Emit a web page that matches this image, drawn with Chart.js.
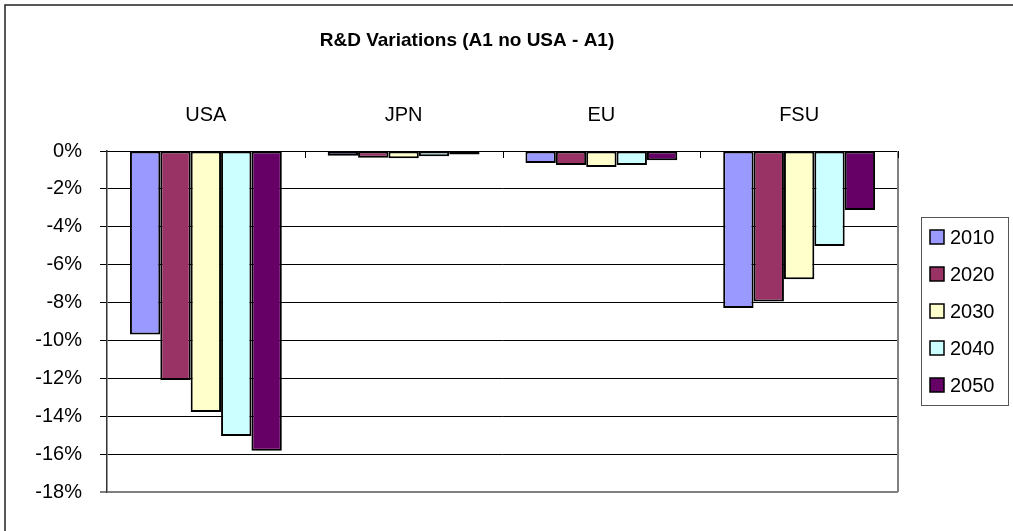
<!DOCTYPE html>
<html><head><meta charset="utf-8">
<script src="https://cdn.jsdelivr.net/npm/chart.js@4"></script>
<style>html,body{margin:0;padding:0;background:#fff;overflow:hidden}#wrap{width:1013px;height:531px;position:relative}</style>
</head><body><div id="wrap"><canvas id="c"></canvas></div>
<script>
const categories = ['USA', 'JPN', 'EU', 'FSU'];
const seriesNames = ['2010', '2020', '2030', '2040', '2050'];
const v2010 = [-9.68, -0.25, -0.63, -8.29];
const v2020 = [-12.09, -0.35, -0.74, -7.94];
const v2030 = [-13.78, -0.38, -0.85, -6.77];
const v2040 = [-15.05, -0.28, -0.74, -5.01];
const v2050 = [-15.82, -0.18, -0.49, -3.12];
const yMin = -18, yMax = 0, yStep = 2;
const chartTitle = 'R&D Variations (A1 no USA - A1)';
const colors = ['#9999FF', '#993366', '#FFFFCC', '#CCFFFF', '#660066'];
const seriesValues = [v2010, v2020, v2030, v2040, v2050];
const FONT = "'Liberation Sans', Arial, sans-serif";

const decor = {
  id: 'decor',
  afterDraw(chart) {
    const ctx = chart.ctx, a = chart.chartArea;
    ctx.save();
    // outer frame (top and left visible)
    ctx.strokeStyle = '#222'; ctx.lineWidth = 1.5;
    ctx.beginPath(); ctx.moveTo(5, 531); ctx.lineTo(5, 5); ctx.lineTo(1013, 5); ctx.stroke();
    // right border of plot area
    ctx.strokeStyle = '#808080'; ctx.lineWidth = 2;
    ctx.beginPath(); ctx.moveTo(a.right, a.top); ctx.lineTo(a.right, a.bottom); ctx.stroke();
    // category tick marks (inside)
    const xs = chart.scales.x;
    ctx.strokeStyle = '#000'; ctx.lineWidth = 1;
    for (let i = 1; i <= categories.length; i++) {
      const px = i < categories.length ? (xs.getPixelForValue(i - 1) + xs.getPixelForValue(i)) / 2 : a.right;
      ctx.beginPath(); ctx.moveTo(Math.round(px) + 0.5, a.top); ctx.lineTo(Math.round(px) + 0.5, a.top + 7); ctx.stroke();
    }
    // title
    ctx.fillStyle = '#000';
    ctx.font = 'bold 19px ' + FONT;
    ctx.textAlign = 'center'; ctx.textBaseline = 'middle';
    ctx.fillText(chartTitle, 467, 41);
    // legend
    ctx.strokeStyle = '#555'; ctx.lineWidth = 1;
    ctx.strokeRect(921.5, 217.5, 87, 188);
    ctx.font = '20px ' + FONT;
    ctx.textAlign = 'left';
    chart.data.datasets.forEach((ds, i) => {
      const cy = 237 + i * 37;
      ctx.fillStyle = ds.backgroundColor;
      ctx.fillRect(930, cy - 7, 14, 14);
      ctx.strokeStyle = '#000'; ctx.lineWidth = 1.5;
      ctx.strokeRect(930, cy - 7, 14, 14);
      ctx.fillStyle = '#000';
      ctx.fillText(ds.label, 950, cy + 1);
    });
    ctx.restore();
  }
};

new Chart(document.getElementById('c'), {
  type: 'bar',
  data: {
    labels: categories,
    datasets: seriesNames.map((n, i) => ({
      label: n,
      data: seriesValues[i],
      backgroundColor: colors[i],
      borderColor: '#000',
      borderWidth: 2,
      borderSkipped: false,
      categoryPercentage: 0.768,
      barPercentage: 1
    }))
  },
  options: {
    responsive: true,
    maintainAspectRatio: false,
    animation: false,
    layout: { padding: { left: 0, top: 0, right: 115, bottom: 39 } },
    plugins: { legend: { display: false }, title: { display: false }, tooltip: { enabled: false } },
    scales: {
      x: {
        position: 'top',
        grid: { display: false },
        border: { display: true, color: '#000', width: 1 },
        ticks: { color: '#000', font: { family: FONT, size: 20 }, padding: 16 },
        afterFit(s) { s.height = 151; }
      },
      y: {
        min: yMin, max: yMax,
        grid: {
          color: c => (c.tick && c.tick.value === yMin) ? '#808080' : '#000',
          lineWidth: c => (c.tick && c.tick.value === yMin) ? 2 : 1,
          tickLength: 7
        },
        border: { display: true, color: '#333', width: 1.5 },
        ticks: { stepSize: yStep, color: '#000', font: { family: FONT, size: 20 }, padding: 18, callback: v => v + '%' },
        afterFit(s) { s.width = 107; }
      }
    }
  },
  plugins: [decor]
});
</script>
</body></html>
